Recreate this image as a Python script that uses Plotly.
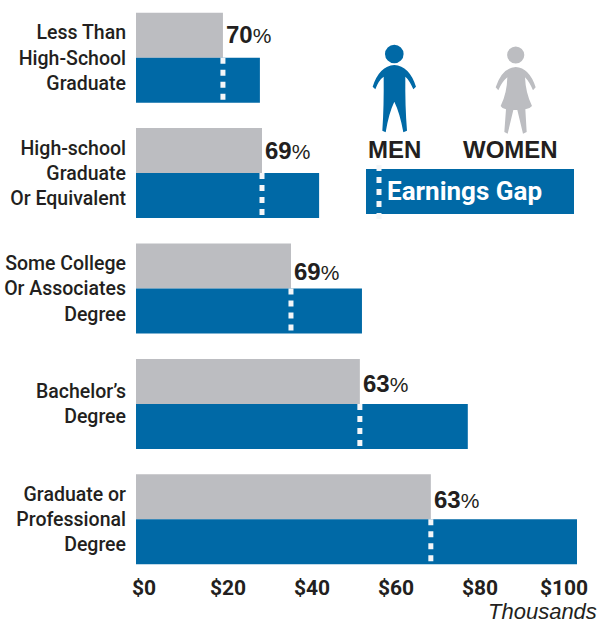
import plotly.graph_objects as go

categories = ["Less Than<br>High-School<br>Graduate", "High-school<br>Graduate<br>Or Equivalent",
              "Some College<br>Or Associates<br>Degree", "Bachelor’s<br>Degree",
              "Graduate or<br>Professional<br>Degree"]
women = [20.7, 30.0, 36.9, 53.3, 70.2]
men = [29.5, 43.6, 53.8, 79.0, 105.0]
gap_labels = ["70", "69", "69", "63", "63"]
tick_values = [0, 20, 40, 60, 80, 100]
tick_labels = ["$0", "$20", "$40", "$60", "$80", "$100"]

BLUE = "#0069a6"
GRAY = "#bcbdc1"
INK = "#231f20"
NARROW = "Roboto"
W, H, L, R, T, B = 602, 619, 136, 0, 0, 42
PW, PH = W - L - R, H - T - B
label_nudge = [0, 0, 6, 3, 3]


def px(x, y):
    return f"{(x - L) / PW:.5f},{1 - (y - T) / PH:.5f}"


def zx(x):
    return 350 + x / 3


def zy(y):
    return 30 + y / 3


def icon(cmds):
    out = []
    for c in cmds:
        if isinstance(c, str):
            out.append(c)
        else:
            out.append(px(zx(c[0]), zy(c[1])))
    return " ".join(out)


def circle(cx, cy, r, color):
    return dict(type="circle", xref="paper", yref="paper",
                x0=(cx - r - L) / PW, x1=(cx + r - L) / PW,
                y0=1 - (cy + r - T) / PH, y1=1 - (cy - r - T) / PH,
                fillcolor=color, line_width=0, layer="above")


man = ["M", (133, 105), "Q", (178, 108), (198, 170), "L", (190, 178), "Q", (178, 150), (166, 140),
       "Q", (165, 230), (171, 302), "L", (160, 307), "Q", (150, 250), (133, 215),
       "Q", (116, 250), (107, 307), "L", (97, 302), "Q", (102, 230), (101, 140),
       "Q", (86, 150), (76, 178), "L", (68, 170), "Q", (88, 108), (133, 105), "Z"]
woman = ["M", (497, 111), "Q", (538, 113), (557, 172), "L", (549, 181), "Q", (538, 155), (525, 142),
         "Q", (527, 190), (546, 228), "Q", (540, 236), (526, 238),
         "L", (530, 306), "L", (519, 311), "L", (502, 240), "L", (490, 240),
         "L", (473, 311), "L", (463, 306), "L", (468, 238),
         "Q", (456, 236), (452, 228), "Q", (471, 190), (472, 142),
         "Q", (456, 155), (445, 181), "L", (437, 172), "Q", (456, 113), (497, 111), "Z"]

shapes = [
    circle(394.3, 54, 9.3, BLUE),
    circle(515.7, 55, 8.6, GRAY),
    dict(type="path", xref="paper", yref="paper", path=icon(man), fillcolor=BLUE, line_width=0, layer="above"),
    dict(type="path", xref="paper", yref="paper", path=icon(woman), fillcolor=GRAY, line_width=0, layer="above"),
    dict(type="rect", xref="paper", yref="paper", x0=(366 - L) / PW, x1=(574 - L) / PW,
         y0=1 - 214 / PH, y1=1 - 169 / PH, fillcolor=BLUE, line_width=0, layer="above"),
    dict(type="line", xref="paper", yref="paper", x0=(379 - L) / PW, x1=(379 - L) / PW,
         y0=1 - 219 / PH, y1=1 - 165 / PH, line=dict(color="#f4f6f8", width=5, dash="6px,6px"), layer="above"),
]
for i, w in enumerate(women):
    shapes.append(dict(type="line", xref="x", yref="y", x0=w, x1=w, y0=i, y1=i + 0.39,
                       line=dict(color="#f4f6f8", width=5, dash="6px,6px"), layer="above"))

annotations = []
for i, (w, g) in enumerate(zip(women, gap_labels)):
    annotations.append(dict(xref="x", yref="y", x=w, y=i - 0.2, xanchor="left", yanchor="middle",
                            xshift=1, yshift=-label_nudge[i], showarrow=False,
                            text=f"<b>{g}</b><span style='font-size:21px'>%</span>",
                            font=dict(family="Liberation Sans", size=24, color=INK)))


def paper_text(x, y, text, size, color, anchor="center", family="Liberation Sans"):
    annotations.append(dict(xref="paper", yref="paper", x=(x - L) / PW, y=1 - (y - T) / PH,
                            xanchor=anchor, yanchor="middle", showarrow=False, text=text,
                            font=dict(family=family, size=size, color=color)))


paper_text(394, 149, "<b>MEN</b>", 24, INK)
paper_text(510, 149, "<b>WOMEN</b>", 24, INK)
paper_text(385, 191, "<b>Earnings Gap</b>", 26, "white", "left", NARROW)
paper_text(599, 611, "<i>Thousands</i>", 22, INK, "right")

fig = go.Figure()
fig.add_bar(name="Women", y=categories, x=women, orientation="h", marker=dict(color=GRAY, line_width=0))
fig.add_bar(name="Men", y=categories, x=men, orientation="h", marker=dict(color=BLUE, line_width=0))
fig.update_layout(
    width=W, height=H, margin=dict(l=L, r=R, t=T, b=B, pad=0, autoexpand=False),
    barmode="group", bargap=0.22, bargroupgap=0, showlegend=False,
    plot_bgcolor="white", paper_bgcolor="white", shapes=shapes, annotations=annotations,
    font=dict(color=INK),
)
fig.update_xaxes(range=[0, PW / 4.2], tickvals=tick_values, ticktext=[f"<b>{t}</b>" for t in tick_labels],
                 tickfont=dict(family=NARROW, size=21, color=INK), ticks="", showgrid=False, zeroline=False,
                 showline=False, ticklabelshift=8, ticklabelstandoff=-4)
fig.update_yaxes(autorange="reversed", tickfont=dict(family=NARROW, size=19.5, weight=500, color=INK), ticks="", showgrid=False,
                 showline=False, ticklabelstandoff=9)
fig.write_html("out.html", config={"displayModeBar": False},
               post_script="document.body.style.margin='0';document.body.style.overflow='hidden';")
